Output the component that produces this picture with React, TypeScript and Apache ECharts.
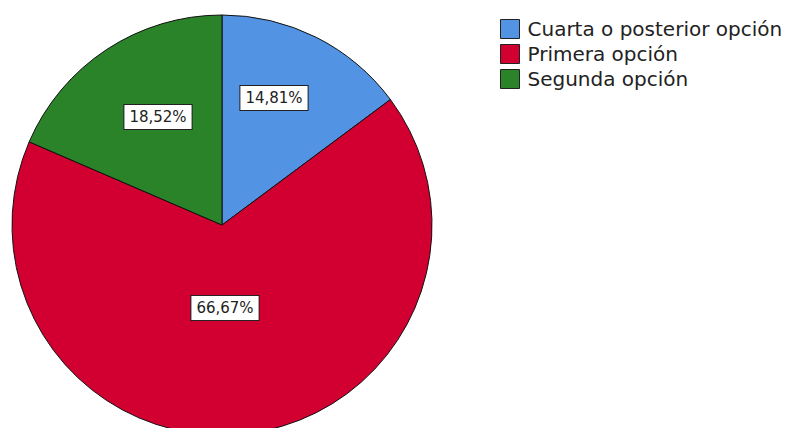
import React, { useEffect, useRef } from "react";
import * as echarts from "echarts";

const categories = ["Cuarta o posterior opción", "Primera opción", "Segunda opción"];
const percentValues = [14.81, 66.67, 18.52];
const colors = ["#5393e3", "#d20030", "#2a8229"];
const labelCenters: [number, number][] = [
  [274, 98],
  [225, 308],
  [158, 117],
];

export default function App() {
  const ref = useRef<HTMLDivElement>(null);
  useEffect(() => {
    if (!ref.current) return;
    const chart = echarts.init(ref.current, undefined, { renderer: "svg" });
    chart.setOption({
      animation: false,
      backgroundColor: "#ffffff",
      legend: {
        orient: "vertical",
        left: 495,
        top: 14,
        icon: "rect",
        itemWidth: 19,
        itemHeight: 19,
        itemGap: 5,
        selectedMode: false,
        itemStyle: { borderColor: "#222", borderWidth: 1 },
        textStyle: {
          fontSize: 20,
          lineHeight: 19,
          color: "#222",
          fontFamily: "DejaVu Sans",
          padding: [0, 0, 0, 3],
        },
        data: categories,
      },
      series: [
        {
          type: "pie",
          center: [222, 225],
          radius: 210,
          startAngle: 90,
          clockwise: true,
          avoidLabelOverlap: false,
          itemStyle: { borderColor: "#111", borderWidth: 1 },
          emphasis: { disabled: true },
          label: {
            show: true,
            position: "inside",
            formatter: (p: any) => p.value.toFixed(2).replace(".", ",") + "%",
            backgroundColor: "#ffffff",
            borderColor: "#222",
            borderWidth: 1,
            padding: [5, 5, 4, 5],
            fontSize: 15,
            color: "#222",
            fontFamily: "DejaVu Sans",
          },
          labelLine: { show: false },
          labelLayout: (params: any) => {
            const c = labelCenters[params.dataIndex];
            return { x: c[0], y: c[1], align: "center", verticalAlign: "middle" };
          },
          data: categories.map((name, i) => ({
            name,
            value: percentValues[i],
            itemStyle: { color: colors[i] },
          })),
        },
      ],
    });
    return () => chart.dispose();
  }, []);
  return (
    <div
      ref={ref}
      style={{ position: "absolute", left: 0, top: 0, width: 792, height: 428 }}
    />
  );
}
